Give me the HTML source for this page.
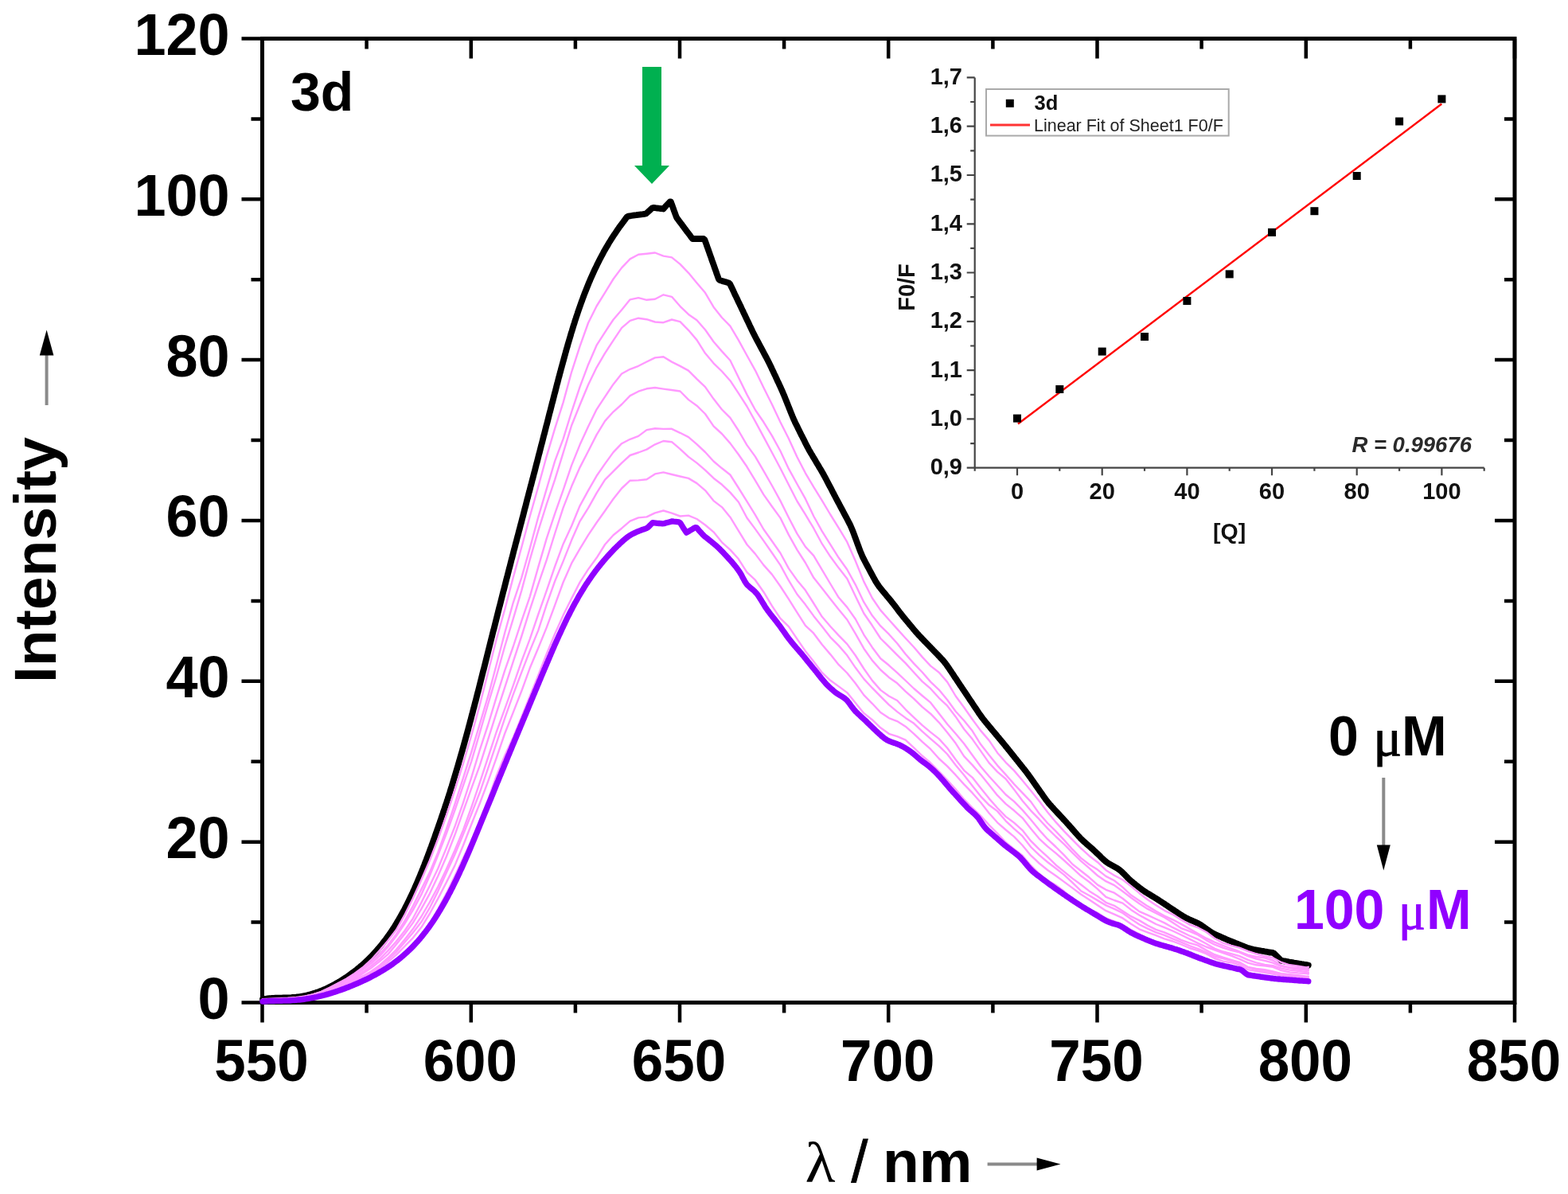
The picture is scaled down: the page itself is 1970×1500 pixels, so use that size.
<!DOCTYPE html><html><head><meta charset="utf-8"><title>Fluorescence quenching 3d</title><style>
html,body{margin:0;padding:0;background:#fff;}body{width:1970px;height:1500px;overflow:hidden;}
svg{display:block;}text{font-family:"Liberation Sans",Arial,sans-serif;}
.sym{font-family:"Liberation Serif","Times New Roman",serif;}
</style></head><body>
<svg width="1970" height="1500" viewBox="0 0 1970 1500">
<rect width="1970" height="1500" fill="#fff"/>
<g stroke="#000" stroke-width="4.5" fill="none" stroke-linecap="butt">
<rect x="329.5" y="48.5" width="1573.5" height="1211.0" stroke-width="5"/>
<path d="M329.5,1259.5V1284.5M329.5,48.5V73.5M460.6,1259.5V1272.5M460.6,48.5V61.5M591.8,1259.5V1284.5M591.8,48.5V73.5M722.9,1259.5V1272.5M722.9,48.5V61.5M854.0,1259.5V1284.5M854.0,48.5V73.5M985.1,1259.5V1272.5M985.1,48.5V61.5M1116.2,1259.5V1284.5M1116.2,48.5V73.5M1247.4,1259.5V1272.5M1247.4,48.5V61.5M1378.5,1259.5V1284.5M1378.5,48.5V73.5M1509.6,1259.5V1272.5M1509.6,48.5V61.5M1640.8,1259.5V1284.5M1640.8,48.5V73.5M1771.9,1259.5V1272.5M1771.9,48.5V61.5M1903.0,1259.5V1284.5M1903.0,48.5V73.5M329.5,1259.5H303.5M1903.0,1259.5H1878.0M329.5,1158.6H315.5M1903.0,1158.6H1890.0M329.5,1057.7H303.5M1903.0,1057.7H1878.0M329.5,956.7H315.5M1903.0,956.7H1890.0M329.5,855.8H303.5M1903.0,855.8H1878.0M329.5,754.9H315.5M1903.0,754.9H1890.0M329.5,654.0H303.5M1903.0,654.0H1878.0M329.5,553.1H315.5M1903.0,553.1H1890.0M329.5,452.1H303.5M1903.0,452.1H1878.0M329.5,351.2H315.5M1903.0,351.2H1890.0M329.5,250.3H303.5M1903.0,250.3H1878.0M329.5,149.4H315.5M1903.0,149.4H1890.0M329.5,48.5H303.5M1903.0,48.5H1878.0"/>
</g>
<g fill="none" stroke-linejoin="round" stroke-linecap="round">
<path d="M330.0,1255.4 L332.0,1255.0 L335.6,1254.5 L336.9,1254.4 L338.5,1254.2 L340.2,1254.1 L342.1,1253.9 L344.0,1253.8 L346.0,1253.7 L348.0,1253.7 L350.0,1253.6 L352.0,1253.6 L354.0,1253.6 L356.0,1253.5 L358.0,1253.5 L360.0,1253.4 L362.0,1253.4 L364.0,1253.3 L366.0,1253.2 L368.0,1253.0 L370.0,1252.9 L372.0,1252.7 L374.0,1252.4 L376.0,1252.2 L378.0,1251.9 L380.0,1251.5 L382.0,1251.2 L384.0,1250.7 L386.0,1250.3 L388.0,1249.8 L390.0,1249.3 L392.0,1248.7 L394.0,1248.1 L396.0,1247.5 L398.0,1246.8 L400.0,1246.1 L402.0,1245.3 L404.0,1244.6 L406.0,1243.7 L408.0,1242.9 L410.0,1242.0 L412.0,1241.0 L414.0,1240.0 L416.0,1239.0 L418.0,1238.0 L420.0,1236.9 L421.9,1235.8 L423.8,1234.8 L425.7,1233.7 L427.6,1232.6 L429.3,1231.5 L431.1,1230.3 L432.8,1229.2 L434.6,1228.1 L436.3,1226.9 L438.0,1225.7 L439.7,1224.5 L441.4,1223.2 L443.1,1221.9 L444.9,1220.6 L446.6,1219.3 L448.3,1218.0 L450.0,1216.6 L451.7,1215.2 L453.3,1213.8 L455.0,1212.4 L456.6,1211.0 L458.2,1209.5 L459.7,1208.1 L461.2,1206.7 L462.7,1205.2 L464.2,1203.7 L465.7,1202.2 L467.2,1200.7 L468.7,1199.1 L470.2,1197.5 L471.7,1195.9 L473.1,1194.2 L474.5,1192.6 L475.9,1191.0 L477.3,1189.4 L478.7,1187.7 L480.0,1186.1 L481.3,1184.4 L482.6,1182.7 L483.9,1181.0 L485.2,1179.3 L486.5,1177.5 L487.7,1175.8 L489.0,1174.1 L490.1,1172.4 L491.3,1170.7 L492.5,1169.0 L493.6,1167.2 L494.7,1165.5 L495.8,1163.8 L496.9,1162.0 L498.0,1160.2 L499.1,1158.4 L500.2,1156.6 L501.3,1154.8 L502.3,1152.9 L503.4,1151.0 L504.4,1149.2 L505.5,1147.3 L506.5,1145.4 L507.5,1143.6 L508.5,1141.7 L509.4,1139.8 L510.4,1138.0 L511.4,1136.1 L512.3,1134.2 L513.2,1132.3 L514.1,1130.5 L515.0,1128.6 L515.9,1126.7 L516.8,1124.8 L517.7,1123.0 L518.6,1121.1 L519.4,1119.2 L520.3,1117.3 L521.1,1115.5 L521.9,1113.6 L522.8,1111.7 L523.6,1109.8 L524.4,1107.9 L525.2,1106.0 L526.0,1104.1 L526.8,1102.2 L527.6,1100.4 L528.3,1098.5 L529.1,1096.6 L529.9,1094.7 L530.6,1092.8 L531.4,1091.0 L532.1,1089.1 L532.9,1087.2 L533.6,1085.3 L534.4,1083.3 L535.1,1081.4 L535.9,1079.4 L536.6,1077.4 L537.4,1075.5 L538.1,1073.5 L538.9,1071.5 L539.6,1069.5 L540.3,1067.5 L541.0,1065.6 L541.8,1063.6 L542.5,1061.7 L543.2,1059.7 L543.9,1057.8 L544.6,1055.8 L545.3,1053.9 L546.0,1052.0 L546.6,1050.0 L547.3,1048.1 L548.0,1046.2 L548.7,1044.3 L549.3,1042.4 L550.0,1040.5 L550.7,1038.6 L551.3,1036.7 L552.0,1034.8 L552.7,1032.9 L553.3,1031.0 L554.0,1029.0 L554.6,1027.1 L555.3,1025.2 L556.0,1023.3 L556.6,1021.4 L557.3,1019.4 L557.9,1017.5 L558.6,1015.6 L559.2,1013.6 L559.9,1011.6 L560.5,1009.7 L561.2,1007.7 L561.8,1005.7 L562.5,1003.7 L563.1,1001.7 L563.8,999.7 L564.4,997.7 L565.1,995.7 L565.7,993.7 L566.3,991.7 L566.9,989.7 L567.6,987.7 L568.2,985.7 L568.8,983.7 L569.4,981.7 L570.0,979.7 L570.6,977.7 L571.2,975.7 L571.8,973.7 L572.4,971.7 L573.0,969.7 L573.6,967.7 L574.2,965.7 L574.8,963.7 L575.4,961.7 L576.0,959.7 L576.5,957.7 L577.1,955.7 L577.7,953.7 L578.3,951.7 L578.8,949.7 L579.4,947.7 L580.0,945.7 L580.6,943.7 L581.1,941.7 L581.7,939.7 L582.3,937.7 L582.8,935.7 L583.4,933.7 L583.9,931.7 L584.5,929.7 L585.0,927.7 L585.6,925.7 L586.1,923.7 L586.7,921.7 L587.2,919.7 L587.8,917.7 L588.3,915.7 L588.8,913.7 L589.4,911.7 L589.9,909.7 L590.4,907.7 L591.0,905.7 L591.5,903.7 L592.0,901.7 L592.5,899.7 L593.1,897.7 L593.6,895.7 L594.1,893.7 L594.6,891.7 L595.2,889.7 L595.7,887.7 L596.2,885.7 L596.7,883.7 L597.3,881.7 L597.8,879.7 L598.3,877.7 L598.8,875.7 L599.3,873.7 L599.8,871.7 L600.4,869.7 L600.9,867.7 L601.4,865.7 L601.9,863.7 L602.4,861.7 L602.9,859.7 L603.4,857.7 L603.9,855.7 L604.4,853.7 L604.9,851.7 L605.4,849.7 L605.9,847.7 L606.4,845.7 L606.9,843.7 L607.5,841.7 L608.0,839.7 L608.5,837.7 L609.0,835.7 L609.5,833.7 L610.0,831.7 L610.5,829.7 L611.0,827.7 L611.5,825.7 L612.0,823.7 L612.5,821.7 L613.0,819.7 L613.5,817.7 L614.0,815.7 L614.5,813.7 L615.0,811.7 L615.5,809.7 L616.0,807.7 L616.5,805.7 L617.0,803.7 L617.5,801.7 L618.1,799.7 L618.5,797.7 L619.0,795.7 L619.5,793.7 L620.1,791.7 L620.6,789.7 L621.1,787.7 L621.6,785.7 L622.1,783.7 L622.6,781.7 L623.1,779.7 L623.6,777.7 L624.1,775.7 L624.6,773.7 L625.1,771.7 L625.6,769.7 L626.1,767.7 L626.6,765.7 L627.1,763.7 L627.7,761.7 L628.2,759.7 L628.7,757.7 L629.2,755.7 L629.7,753.7 L630.2,751.7 L630.7,749.7 L631.2,747.7 L631.7,745.7 L632.2,743.7 L632.8,741.7 L633.3,739.7 L633.8,737.7 L634.3,735.7 L634.8,733.7 L635.3,731.7 L635.8,729.7 L636.3,727.7 L636.9,725.7 L637.4,723.7 L637.9,721.7 L638.4,719.7 L638.9,717.7 L639.4,715.7 L640.0,713.7 L640.5,711.7 L641.0,709.7 L641.5,707.7 L642.0,705.7 L642.5,703.7 L643.1,701.7 L643.6,699.7 L644.1,697.7 L644.6,695.7 L645.1,693.7 L645.6,691.7 L646.2,689.7 L646.7,687.7 L647.2,685.7 L647.7,683.7 L648.3,681.7 L648.8,679.7 L649.3,677.7 L649.8,675.7 L650.4,673.7 L650.9,671.7 L651.4,669.7 L651.9,667.7 L652.5,665.7 L653.0,663.7 L653.5,661.7 L654.0,659.7 L654.6,657.7 L655.1,655.7 L655.6,653.7 L656.1,651.7 L656.7,649.7 L657.2,647.7 L657.7,645.7 L658.2,643.7 L658.7,641.7 L659.2,639.7 L659.8,637.7 L660.3,635.7 L660.8,633.7 L661.3,631.7 L661.8,629.7 L662.3,627.7 L662.9,625.7 L663.4,623.7 L663.9,621.7 L664.4,619.7 L665.0,617.7 L665.5,615.7 L666.0,613.7 L666.5,611.7 L667.1,609.7 L667.6,607.7 L668.1,605.7 L668.6,603.7 L669.2,601.7 L669.7,599.7 L670.2,597.7 L670.7,595.7 L671.3,593.7 L671.8,591.7 L672.3,589.7 L672.8,587.7 L673.3,585.7 L673.8,583.7 L674.4,581.7 L674.9,579.7 L675.4,577.7 L675.9,575.7 L676.4,573.7 L676.9,571.7 L677.5,569.7 L678.0,567.7 L678.5,565.7 L679.0,563.7 L679.5,561.7 L680.0,559.7 L680.6,557.7 L681.1,555.7 L681.6,553.7 L682.1,551.7 L682.6,549.7 L683.1,547.7 L683.7,545.7 L684.2,543.7 L684.7,541.7 L685.2,539.7 L685.7,537.7 L686.2,535.7 L686.8,533.7 L687.3,531.7 L687.8,529.7 L688.3,527.7 L688.8,525.7 L689.3,523.7 L689.8,521.7 L690.3,519.7 L690.9,517.7 L691.4,515.7 L691.9,513.7 L692.4,511.7 L692.9,509.7 L693.4,507.7 L694.0,505.7 L694.5,503.7 L695.0,501.7 L695.5,499.7 L696.0,497.7 L696.5,495.7 L697.1,493.7 L697.6,491.7 L698.1,489.7 L698.6,487.7 L699.1,485.7 L699.6,483.7 L700.2,481.7 L700.7,479.7 L701.2,477.7 L701.7,475.7 L702.3,473.7 L702.8,471.7 L703.3,469.7 L703.9,467.7 L704.4,465.7 L704.9,463.7 L705.5,461.7 L706.0,459.7 L706.6,457.7 L707.1,455.7 L707.7,453.7 L708.2,451.7 L708.8,449.7 L709.3,447.7 L709.9,445.7 L710.4,443.7 L711.0,441.7 L711.5,439.7 L712.1,437.7 L712.7,435.7 L713.2,433.7 L713.8,431.7 L714.4,429.7 L715.0,427.7 L715.6,425.7 L716.2,423.7 L716.8,421.7 L717.3,419.7 L717.9,417.7 L718.6,415.7 L719.2,413.7 L719.8,411.7 L720.4,409.7 L721.0,407.7 L721.7,405.7 L722.3,403.7 L722.9,401.7 L723.6,399.7 L724.2,397.7 L724.9,395.7 L725.6,393.7 L726.2,391.7 L726.9,389.7 L727.6,387.7 L728.3,385.7 L729.0,383.7 L729.7,381.7 L730.4,379.7 L731.2,377.7 L731.9,375.7 L732.6,373.7 L733.4,371.7 L734.1,369.7 L734.9,367.7 L735.7,365.7 L736.5,363.7 L737.3,361.7 L738.1,359.7 L738.9,357.7 L739.7,355.7 L740.6,353.7 L741.4,351.7 L742.3,349.7 L743.2,347.7 L744.1,345.7 L745.0,343.7 L745.9,341.7 L746.8,339.7 L747.7,337.7 L748.7,335.7 L749.7,333.7 L750.6,331.7 L751.6,329.7 L752.6,327.7 L753.6,325.8 L754.6,323.9 L755.6,322.0 L756.6,320.1 L757.6,318.3 L758.5,316.5 L759.5,314.7 L760.6,312.9 L761.6,311.1 L762.6,309.4 L763.7,307.6 L764.7,305.8 L765.8,304.0 L766.9,302.3 L768.0,300.5 L769.2,298.7 L770.3,296.9 L771.5,295.1 L772.7,293.4 L773.9,291.6 L775.1,289.8 L776.3,288.1 L777.5,286.3 L778.7,284.6 L780.0,282.9 L781.2,281.2 L782.5,279.6 L783.7,277.9 L784.9,276.3 L786.1,274.7 L787.6,272.7 L789.4,271.6 L791.4,271.3 L793.4,271.0 L795.5,270.7 L797.5,270.4 L799.5,270.2 L801.5,269.9 L803.5,269.6 L805.5,269.3 L807.6,269.1 L809.6,268.8 L811.6,268.5 L813.1,267.1 L814.7,265.7 L816.2,264.3 L817.7,262.9 L819.2,261.5 L821.0,260.9 L823.1,261.2 L825.1,261.5 L827.2,261.7 L829.2,262.0 L831.3,262.2 L833.3,262.5 L834.7,261.0 L836.1,259.4 L837.5,257.9 L839.0,256.3 L840.4,254.8 L841.8,253.3 L842.8,253.4 L843.5,255.3 L844.2,257.2 L844.9,259.1 L845.6,261.0 L846.2,262.9 L846.9,264.8 L847.6,266.7 L848.3,268.6 L849.0,270.5 L849.7,272.4 L850.6,274.1 L851.8,275.7 L853.0,277.3 L854.2,279.0 L855.5,280.6 L856.7,282.2 L857.9,283.8 L859.1,285.4 L860.3,287.1 L861.5,288.7 L862.7,290.3 L863.9,291.9 L865.2,293.5 L866.4,295.1 L867.6,296.8 L868.8,298.4 L870.0,300.0 L872.0,300.0 L874.0,300.0 L876.0,300.0 L878.0,300.0 L880.0,300.0 L882.0,300.0 L884.0,300.0 L885.3,301.0 L886.0,302.9 L886.7,304.8 L887.4,306.7 L888.0,308.6 L888.7,310.5 L889.4,312.4 L890.1,314.4 L890.8,316.3 L891.4,318.2 L892.1,320.1 L892.8,322.0 L893.5,323.9 L894.1,325.9 L894.8,327.8 L895.5,329.7 L896.2,331.6 L896.9,333.5 L897.5,335.4 L898.2,337.3 L898.9,339.3 L899.6,341.2 L900.2,343.1 L900.9,345.0 L901.6,346.9 L902.3,348.8 L903.0,350.7 L904.3,352.0 L906.2,352.6 L908.1,353.2 L910.0,353.8 L911.9,354.3 L913.8,354.9 L915.7,355.5 L917.1,356.7 L918.0,358.5 L918.8,360.3 L919.7,362.1 L920.6,363.9 L921.4,365.7 L922.3,367.6 L923.1,369.4 L924.0,371.2 L924.9,373.0 L925.7,374.8 L926.6,376.6 L927.4,378.4 L928.3,380.2 L929.2,382.0 L930.0,383.8 L930.9,385.6 L931.7,387.4 L932.6,389.3 L933.5,391.1 L934.3,392.9 L935.2,394.7 L936.0,396.5 L936.9,398.3 L937.7,400.1 L938.6,401.9 L939.5,403.7 L940.3,405.5 L941.2,407.3 L942.0,409.1 L942.9,411.0 L943.8,412.8 L944.6,414.6 L945.5,416.4 L946.4,418.2 L947.3,420.0 L948.2,421.8 L949.1,423.6 L950.1,425.4 L951.0,427.2 L952.0,429.0 L953.0,430.8 L953.9,432.6 L954.9,434.4 L955.8,436.2 L956.8,438.0 L957.8,439.8 L958.7,441.6 L959.7,443.4 L960.6,445.2 L961.6,447.0 L962.6,448.8 L963.5,450.6 L964.5,452.4 L965.4,454.2 L966.3,456.0 L967.2,457.9 L968.1,459.7 L969.0,461.5 L969.8,463.4 L970.7,465.2 L971.6,467.1 L972.4,468.9 L973.3,470.8 L974.2,472.6 L975.0,474.5 L975.9,476.3 L976.7,478.2 L977.6,480.0 L978.5,481.8 L979.3,483.7 L980.2,485.5 L981.0,487.4 L981.9,489.3 L982.7,491.1 L983.5,493.0 L984.3,494.9 L985.1,496.7 L985.8,498.6 L986.6,500.5 L987.4,502.4 L988.1,504.3 L988.9,506.2 L989.6,508.1 L990.4,510.0 L991.2,511.9 L991.9,513.8 L992.7,515.7 L993.4,517.6 L994.2,519.5 L995.0,521.4 L995.7,523.2 L996.5,525.1 L997.3,527.0 L998.2,528.8 L999.0,530.7 L999.9,532.5 L1000.8,534.3 L1001.7,536.1 L1002.6,537.9 L1003.5,539.7 L1004.4,541.5 L1005.2,543.3 L1006.1,545.1 L1007.0,546.9 L1008.0,548.7 L1008.9,550.5 L1009.8,552.3 L1010.7,554.1 L1011.6,555.9 L1012.5,557.7 L1013.4,559.5 L1014.3,561.3 L1015.3,563.0 L1016.2,564.8 L1017.2,566.6 L1018.2,568.3 L1019.2,570.0 L1020.3,571.7 L1021.3,573.5 L1022.3,575.2 L1023.4,576.9 L1024.4,578.6 L1025.4,580.4 L1026.4,582.1 L1027.5,583.8 L1028.5,585.5 L1029.5,587.3 L1030.6,589.0 L1031.6,590.7 L1032.6,592.5 L1033.6,594.2 L1034.6,596.0 L1035.6,597.8 L1036.6,599.6 L1037.5,601.4 L1038.5,603.2 L1039.4,605.0 L1040.4,606.9 L1041.3,608.7 L1042.3,610.5 L1043.3,612.3 L1044.2,614.1 L1045.2,616.0 L1046.1,617.8 L1047.1,619.6 L1048.0,621.4 L1049.0,623.3 L1049.9,625.1 L1050.9,626.9 L1051.8,628.7 L1052.8,630.5 L1053.8,632.3 L1054.7,634.1 L1055.7,635.9 L1056.6,637.7 L1057.6,639.5 L1058.6,641.3 L1059.5,643.1 L1060.5,644.9 L1061.4,646.7 L1062.4,648.5 L1063.4,650.3 L1064.3,652.1 L1065.3,653.9 L1066.2,655.7 L1067.1,657.5 L1068.1,659.3 L1068.9,661.2 L1069.7,663.0 L1070.5,664.9 L1071.3,666.8 L1072.0,668.6 L1072.7,670.5 L1073.4,672.4 L1074.1,674.3 L1074.8,676.2 L1075.5,678.1 L1076.2,680.0 L1076.9,681.9 L1077.6,683.8 L1078.3,685.7 L1079.0,687.6 L1079.7,689.5 L1080.4,691.4 L1081.1,693.2 L1081.9,695.1 L1082.7,697.0 L1083.5,698.8 L1084.3,700.7 L1085.3,702.5 L1086.2,704.3 L1087.1,706.1 L1088.1,707.9 L1089.0,709.7 L1090.0,711.5 L1091.0,713.3 L1091.9,715.1 L1092.9,716.9 L1093.8,718.7 L1094.8,720.5 L1095.8,722.3 L1096.7,724.1 L1097.7,725.9 L1098.7,727.7 L1099.7,729.5 L1100.7,731.2 L1101.8,732.9 L1102.9,734.6 L1104.1,736.3 L1105.3,737.9 L1106.6,739.5 L1107.9,741.1 L1109.2,742.7 L1110.5,744.2 L1111.8,745.8 L1113.1,747.4 L1114.4,749.0 L1115.7,750.5 L1117.1,752.1 L1118.4,753.7 L1119.7,755.3 L1120.9,756.9 L1122.2,758.5 L1123.5,760.1 L1124.7,761.7 L1126.0,763.4 L1127.2,765.0 L1128.4,766.6 L1129.7,768.3 L1130.9,769.9 L1132.2,771.5 L1133.5,773.1 L1134.7,774.7 L1136.0,776.3 L1137.3,777.9 L1138.7,779.5 L1140.0,781.0 L1141.3,782.6 L1142.6,784.2 L1143.9,785.8 L1145.2,787.3 L1146.5,788.9 L1147.8,790.5 L1149.1,792.0 L1150.5,793.6 L1151.8,795.1 L1153.2,796.6 L1154.5,798.1 L1155.9,799.6 L1157.3,801.0 L1158.7,802.5 L1160.1,803.9 L1161.4,805.4 L1162.8,806.8 L1164.2,808.2 L1165.6,809.7 L1167.0,811.1 L1168.4,812.6 L1169.8,814.0 L1171.2,815.4 L1172.6,816.9 L1174.0,818.3 L1175.4,819.8 L1176.8,821.2 L1178.2,822.6 L1179.5,824.1 L1180.9,825.5 L1182.3,827.0 L1183.7,828.4 L1185.0,829.9 L1186.3,831.5 L1187.5,833.0 L1188.8,834.6 L1189.9,836.2 L1191.1,837.9 L1192.2,839.5 L1193.3,841.2 L1194.5,842.9 L1195.6,844.6 L1196.7,846.2 L1197.8,847.9 L1198.9,849.6 L1200.0,851.3 L1201.2,852.9 L1202.3,854.6 L1203.4,856.3 L1204.5,858.0 L1205.6,859.6 L1206.7,861.3 L1207.9,863.0 L1209.0,864.7 L1210.1,866.3 L1211.2,868.0 L1212.4,869.7 L1213.5,871.4 L1214.6,873.1 L1215.8,874.8 L1216.9,876.5 L1218.0,878.2 L1219.2,879.9 L1220.3,881.6 L1221.5,883.3 L1222.6,885.0 L1223.7,886.7 L1224.9,888.4 L1226.0,890.1 L1227.2,891.8 L1228.3,893.5 L1229.4,895.2 L1230.6,896.9 L1231.8,898.6 L1232.9,900.2 L1234.1,901.8 L1235.4,903.5 L1236.6,905.0 L1237.9,906.6 L1239.2,908.2 L1240.5,909.7 L1241.7,911.3 L1243.0,912.8 L1244.3,914.4 L1245.6,915.9 L1246.9,917.5 L1248.2,919.0 L1249.5,920.5 L1250.8,922.1 L1252.1,923.6 L1253.4,925.2 L1254.7,926.7 L1255.9,928.3 L1257.2,929.8 L1258.5,931.4 L1259.8,932.9 L1261.1,934.5 L1262.4,936.0 L1263.6,937.6 L1264.9,939.1 L1266.2,940.7 L1267.4,942.3 L1268.7,943.8 L1269.9,945.4 L1271.2,947.0 L1272.4,948.5 L1273.7,950.1 L1274.9,951.7 L1276.2,953.2 L1277.4,954.8 L1278.7,956.3 L1279.9,957.9 L1281.2,959.5 L1282.4,961.0 L1283.7,962.6 L1284.9,964.2 L1286.2,965.7 L1287.4,967.3 L1288.7,968.9 L1289.9,970.5 L1291.1,972.1 L1292.3,973.7 L1293.5,975.4 L1294.7,977.0 L1295.9,978.7 L1297.1,980.4 L1298.2,982.0 L1299.4,983.7 L1300.6,985.4 L1301.7,987.1 L1302.9,988.7 L1304.1,990.4 L1305.3,992.1 L1306.4,993.8 L1307.6,995.4 L1308.8,997.1 L1310.0,998.8 L1311.1,1000.5 L1312.3,1002.1 L1313.5,1003.8 L1314.7,1005.4 L1316.0,1007.0 L1317.2,1008.6 L1318.5,1010.1 L1319.9,1011.6 L1321.2,1013.1 L1322.6,1014.6 L1323.9,1016.1 L1325.3,1017.6 L1326.7,1019.1 L1328.0,1020.5 L1329.4,1022.0 L1330.8,1023.5 L1332.1,1024.9 L1333.5,1026.4 L1334.9,1027.9 L1336.2,1029.4 L1337.6,1030.8 L1339.0,1032.3 L1340.3,1033.8 L1341.7,1035.3 L1343.1,1036.9 L1344.4,1038.4 L1345.8,1039.9 L1347.1,1041.5 L1348.5,1043.0 L1349.9,1044.6 L1351.2,1046.2 L1352.6,1047.7 L1354.0,1049.3 L1355.3,1050.8 L1356.8,1052.3 L1358.2,1053.8 L1359.7,1055.2 L1361.2,1056.7 L1362.7,1058.0 L1364.3,1059.4 L1365.8,1060.8 L1367.4,1062.1 L1369.0,1063.5 L1370.5,1064.9 L1372.1,1066.2 L1373.6,1067.6 L1375.1,1069.0 L1376.6,1070.4 L1378.1,1071.8 L1379.6,1073.2 L1381.0,1074.6 L1382.5,1076.1 L1383.9,1077.5 L1385.4,1078.9 L1386.9,1080.3 L1388.4,1081.6 L1390.0,1082.9 L1391.7,1084.1 L1393.4,1085.2 L1395.2,1086.2 L1397.0,1087.2 L1398.8,1088.2 L1400.6,1089.2 L1402.4,1090.2 L1404.2,1091.2 L1405.9,1092.4 L1407.5,1093.6 L1409.0,1094.9 L1410.5,1096.3 L1411.9,1097.7 L1413.3,1099.1 L1414.7,1100.6 L1416.1,1102.0 L1417.5,1103.5 L1418.9,1104.8 L1420.4,1106.2 L1422.0,1107.5 L1423.5,1108.8 L1425.1,1110.0 L1426.6,1111.3 L1428.2,1112.5 L1429.8,1113.8 L1431.3,1115.0 L1432.9,1116.2 L1434.6,1117.5 L1436.2,1118.6 L1437.9,1119.8 L1439.7,1120.9 L1441.4,1122.0 L1443.2,1123.1 L1445.0,1124.2 L1446.8,1125.3 L1448.6,1126.4 L1450.4,1127.5 L1452.2,1128.6 L1453.9,1129.7 L1455.7,1130.8 L1457.4,1131.9 L1459.1,1133.0 L1460.9,1134.2 L1462.6,1135.3 L1464.3,1136.5 L1466.0,1137.6 L1467.7,1138.7 L1469.4,1139.9 L1471.1,1141.0 L1472.9,1142.2 L1474.6,1143.3 L1476.3,1144.5 L1478.0,1145.6 L1479.7,1146.7 L1481.4,1147.9 L1483.2,1149.0 L1484.9,1150.1 L1486.6,1151.2 L1488.4,1152.2 L1490.2,1153.2 L1492.1,1154.1 L1494.0,1155.0 L1495.9,1155.8 L1497.8,1156.7 L1499.8,1157.5 L1501.7,1158.3 L1503.5,1159.2 L1505.4,1160.1 L1507.1,1161.1 L1508.9,1162.2 L1510.5,1163.3 L1512.2,1164.4 L1513.8,1165.6 L1515.5,1166.8 L1517.1,1168.0 L1518.8,1169.1 L1520.4,1170.2 L1522.1,1171.3 L1523.9,1172.3 L1525.6,1173.3 L1527.5,1174.2 L1529.3,1175.1 L1531.2,1175.9 L1533.1,1176.7 L1535.0,1177.5 L1536.8,1178.4 L1538.7,1179.2 L1540.6,1180.0 L1542.5,1180.8 L1544.4,1181.6 L1546.3,1182.3 L1548.2,1183.1 L1550.0,1183.9 L1551.9,1184.7 L1553.8,1185.4 L1555.7,1186.2 L1557.6,1186.9 L1559.4,1187.7 L1561.3,1188.4 L1563.2,1189.2 L1565.1,1189.9 L1567.0,1190.6 L1568.9,1191.2 L1570.8,1191.8 L1572.8,1192.3 L1574.8,1192.8 L1576.8,1193.2 L1578.8,1193.5 L1580.8,1193.9 L1582.8,1194.2 L1584.8,1194.6 L1586.9,1194.9 L1588.9,1195.3 L1590.9,1195.6 L1592.9,1196.0 L1594.8,1196.5 L1597.0,1196.6 L1599.0,1196.9 L1600.7,1197.8 L1602.2,1199.3 L1603.7,1200.8 L1605.2,1202.3 L1606.7,1203.8 L1608.2,1205.3 L1609.7,1206.8 L1611.7,1207.1 L1613.7,1207.5 L1615.8,1207.7 L1617.8,1208.1 L1619.7,1208.5 L1621.7,1208.8 L1623.7,1209.1 L1625.7,1209.5 L1627.8,1209.8 L1629.7,1210.2 L1631.7,1210.5 L1633.6,1210.8 L1635.3,1211.1 L1636.8,1211.3 L1638.2,1211.6 L1641.8,1212.2 L1643.8,1212.5" stroke="#000" stroke-width="7.8"/>
<path d="M330.0,1255.3 L340.5,1254.6 L351.0,1254.3 L361.5,1253.8 L372.0,1252.9 L382.5,1251.6 L392.9,1249.3 L403.4,1245.9 L413.9,1240.8 L424.4,1235.3 L434.9,1229.8 L445.4,1223.0 L455.9,1215.3 L466.4,1205.7 L476.9,1194.1 L487.4,1181.8 L497.8,1168.3 L508.3,1149.7 L518.8,1128.5 L529.3,1105.6 L539.8,1081.3 L550.3,1054.2 L560.8,1024.6 L571.3,993.2 L581.8,959.7 L592.3,924.0 L602.7,886.1 L613.2,844.8 L623.7,803.2 L634.2,765.8 L644.7,725.7 L655.2,687.7 L665.7,648.7 L676.2,611.7 L686.7,573.3 L697.2,538.2 L707.6,505.6 L718.1,467.3 L728.6,434.9 L739.1,405.5 L749.6,384.5 L760.1,367.6 L770.6,350.5 L781.1,336.4 L791.6,325.4 L802.1,319.8 L812.5,318.7 L823.0,317.5 L833.5,321.6 L844.0,323.4 L854.5,331.9 L865.0,342.8 L875.5,355.4 L886.0,367.8 L896.5,385.7 L907.0,399.0 L917.4,409.7 L927.9,427.3 L938.4,446.5 L948.9,465.3 L959.4,486.9 L969.9,508.0 L980.4,530.2 L990.9,551.0 L1001.4,574.0 L1011.9,594.3 L1022.3,611.9 L1032.8,628.8 L1043.3,646.5 L1053.8,663.3 L1064.3,680.9 L1074.8,704.8 L1085.3,730.6 L1095.8,751.3 L1106.3,766.6 L1116.8,778.5 L1127.2,790.1 L1137.7,801.7 L1148.2,813.0 L1158.7,825.4 L1169.2,836.6 L1179.7,844.7 L1190.2,856.9 L1200.7,874.5 L1211.2,888.8 L1221.7,903.8 L1232.1,917.9 L1242.6,930.1 L1253.1,945.7 L1263.6,957.8 L1274.1,968.1 L1284.6,980.5 L1295.1,993.2 L1305.6,1006.2 L1316.1,1020.3 L1326.6,1032.9 L1337.0,1044.4 L1347.5,1055.1 L1358.0,1065.6 L1368.5,1075.2 L1379.0,1083.2 L1389.5,1093.2 L1400.0,1099.7 L1410.5,1105.3 L1421.0,1113.4 L1431.5,1122.2 L1441.9,1130.3 L1452.4,1137.3 L1462.9,1143.8 L1473.4,1148.8 L1483.9,1155.5 L1494.4,1161.5 L1504.9,1165.2 L1515.4,1170.7 L1525.9,1178.8 L1536.4,1184.7 L1546.8,1187.9 L1557.3,1190.7 L1567.8,1194.9 L1578.3,1198.4 L1588.8,1201.2 L1599.3,1203.3 L1609.8,1209.0 L1620.3,1212.3 L1630.8,1213.7 L1641.3,1215.5 L1643.8,1214.8" stroke="#ff99ff" stroke-width="2.4"/>
<path d="M330.0,1255.8 L340.5,1255.2 L351.0,1254.9 L361.5,1254.6 L372.0,1253.7 L382.5,1251.8 L392.9,1249.5 L403.4,1246.3 L413.9,1242.2 L424.4,1237.4 L434.9,1231.5 L445.4,1225.1 L455.9,1217.3 L466.4,1208.4 L476.9,1198.5 L487.4,1187.2 L497.8,1173.7 L508.3,1157.1 L518.8,1138.3 L529.3,1117.2 L539.8,1096.1 L550.3,1070.9 L560.8,1041.7 L571.3,1010.7 L581.8,977.8 L592.3,944.6 L602.7,909.9 L613.2,874.7 L623.7,835.3 L634.2,795.0 L644.7,757.3 L655.2,725.8 L665.7,688.8 L676.2,649.8 L686.7,614.4 L697.2,579.2 L707.6,551.3 L718.1,517.5 L728.6,485.8 L739.1,457.9 L749.6,433.7 L760.1,417.3 L770.6,401.5 L781.1,389.3 L791.6,376.3 L802.1,374.1 L812.5,376.8 L823.0,375.7 L833.5,370.3 L844.0,372.8 L854.5,384.8 L865.0,394.9 L875.5,402.2 L886.0,414.3 L896.5,429.2 L907.0,441.4 L917.4,452.8 L927.9,474.2 L938.4,495.6 L948.9,515.0 L959.4,530.3 L969.9,547.4 L980.4,566.5 L990.9,588.9 L1001.4,608.0 L1011.9,626.7 L1022.3,648.5 L1032.8,667.4 L1043.3,684.2 L1053.8,700.8 L1064.3,715.5 L1074.8,734.6 L1085.3,756.4 L1095.8,773.3 L1106.3,786.4 L1116.8,796.7 L1127.2,808.3 L1137.7,821.8 L1148.2,833.6 L1158.7,844.5 L1169.2,856.6 L1179.7,866.6 L1190.2,879.2 L1200.7,893.7 L1211.2,905.3 L1221.7,918.3 L1232.1,935.1 L1242.6,948.4 L1253.1,961.6 L1263.6,973.1 L1274.1,985.1 L1284.6,996.1 L1295.1,1007.1 L1305.6,1022.0 L1316.1,1034.0 L1326.6,1044.4 L1337.0,1055.4 L1347.5,1067.2 L1358.0,1077.9 L1368.5,1086.0 L1379.0,1092.6 L1389.5,1100.9 L1400.0,1106.2 L1410.5,1114.6 L1421.0,1124.5 L1431.5,1131.5 L1441.9,1138.4 L1452.4,1144.7 L1462.9,1150.6 L1473.4,1155.3 L1483.9,1160.9 L1494.4,1166.7 L1504.9,1172.9 L1515.4,1178.7 L1525.9,1183.6 L1536.4,1187.8 L1546.8,1191.7 L1557.3,1195.5 L1567.8,1199.7 L1578.3,1202.0 L1588.8,1203.3 L1599.3,1206.5 L1609.8,1212.8 L1620.3,1215.2 L1630.8,1216.3 L1641.3,1217.5 L1643.8,1217.8" stroke="#ff99ff" stroke-width="2.4"/>
<path d="M330.0,1256.1 L340.5,1255.2 L351.0,1254.9 L361.5,1254.6 L372.0,1253.8 L382.5,1252.2 L392.9,1249.8 L403.4,1246.7 L413.9,1242.8 L424.4,1237.3 L434.9,1231.9 L445.4,1225.5 L455.9,1218.2 L466.4,1210.3 L476.9,1201.1 L487.4,1189.5 L497.8,1176.1 L508.3,1160.5 L518.8,1143.4 L529.3,1123.9 L539.8,1100.3 L550.3,1074.4 L560.8,1047.4 L571.3,1018.3 L581.8,987.4 L592.3,956.3 L602.7,920.9 L613.2,884.5 L623.7,849.5 L634.2,812.0 L644.7,777.7 L655.2,742.1 L665.7,703.1 L676.2,666.8 L686.7,633.5 L697.2,602.3 L707.6,568.9 L718.1,534.5 L728.6,508.5 L739.1,483.2 L749.6,461.6 L760.1,443.7 L770.6,427.7 L781.1,411.9 L791.6,402.9 L802.1,399.7 L812.5,401.2 L823.0,404.5 L833.5,405.2 L844.0,401.5 L854.5,404.1 L865.0,414.8 L875.5,427.1 L886.0,443.8 L896.5,456.3 L907.0,466.5 L917.4,478.2 L927.9,494.2 L938.4,510.5 L948.9,529.3 L959.4,548.9 L969.9,568.5 L980.4,588.2 L990.9,609.0 L1001.4,629.5 L1011.9,646.4 L1022.3,663.7 L1032.8,683.2 L1043.3,699.3 L1053.8,713.6 L1064.3,727.1 L1074.8,749.0 L1085.3,770.5 L1095.8,785.8 L1106.3,802.0 L1116.8,812.4 L1127.2,822.8 L1137.7,833.1 L1148.2,844.7 L1158.7,856.1 L1169.2,865.2 L1179.7,876.8 L1190.2,886.7 L1200.7,900.4 L1211.2,916.0 L1221.7,928.6 L1232.1,943.4 L1242.6,958.4 L1253.1,969.6 L1263.6,978.5 L1274.1,991.9 L1284.6,1006.0 L1295.1,1018.3 L1305.6,1029.2 L1316.1,1040.6 L1326.6,1051.0 L1337.0,1060.6 L1347.5,1071.4 L1358.0,1081.7 L1368.5,1090.7 L1379.0,1100.0 L1389.5,1107.2 L1400.0,1112.1 L1410.5,1119.8 L1421.0,1127.8 L1431.5,1135.2 L1441.9,1141.9 L1452.4,1147.3 L1462.9,1152.5 L1473.4,1159.1 L1483.9,1166.1 L1494.4,1169.9 L1504.9,1174.4 L1515.4,1181.1 L1525.9,1186.7 L1536.4,1190.7 L1546.8,1193.9 L1557.3,1196.4 L1567.8,1201.1 L1578.3,1204.5 L1588.8,1206.8 L1599.3,1209.6 L1609.8,1214.1 L1620.3,1216.1 L1630.8,1217.5 L1641.3,1218.8 L1643.8,1219.2" stroke="#ff99ff" stroke-width="2.4"/>
<path d="M330.0,1256.6 L340.5,1255.7 L351.0,1255.2 L361.5,1255.0 L372.0,1254.7 L382.5,1253.4 L392.9,1251.2 L403.4,1248.2 L413.9,1244.3 L424.4,1239.6 L434.9,1234.3 L445.4,1227.8 L455.9,1221.1 L466.4,1213.4 L476.9,1205.0 L487.4,1194.4 L497.8,1182.7 L508.3,1169.5 L518.8,1153.8 L529.3,1134.0 L539.8,1113.0 L550.3,1091.0 L560.8,1065.4 L571.3,1038.8 L581.8,1008.8 L592.3,976.6 L602.7,942.4 L613.2,910.5 L623.7,875.8 L634.2,842.3 L644.7,812.5 L655.2,780.4 L665.7,749.6 L676.2,712.6 L686.7,676.7 L697.2,645.1 L707.6,615.6 L718.1,584.6 L728.6,558.6 L739.1,535.7 L749.6,514.3 L760.1,498.3 L770.6,482.7 L781.1,469.5 L791.6,463.8 L802.1,459.8 L812.5,454.5 L823.0,449.4 L833.5,448.3 L844.0,454.6 L854.5,459.9 L865.0,465.6 L875.5,476.1 L886.0,486.1 L896.5,501.1 L907.0,514.5 L917.4,524.8 L927.9,541.0 L938.4,559.1 L948.9,573.6 L959.4,591.6 L969.9,610.0 L980.4,629.1 L990.9,650.2 L1001.4,670.4 L1011.9,686.9 L1022.3,698.1 L1032.8,715.9 L1043.3,733.5 L1053.8,750.8 L1064.3,762.9 L1074.8,777.7 L1085.3,797.3 L1095.8,813.2 L1106.3,827.3 L1116.8,835.8 L1127.2,845.1 L1137.7,855.0 L1148.2,865.0 L1158.7,874.0 L1169.2,882.7 L1179.7,896.2 L1190.2,909.7 L1200.7,921.8 L1211.2,934.3 L1221.7,948.7 L1232.1,963.0 L1242.6,975.2 L1253.1,986.7 L1263.6,998.3 L1274.1,1006.9 L1284.6,1017.6 L1295.1,1029.7 L1305.6,1042.6 L1316.1,1054.2 L1326.6,1064.0 L1337.0,1074.4 L1347.5,1085.8 L1358.0,1094.0 L1368.5,1102.3 L1379.0,1111.6 L1389.5,1117.8 L1400.0,1121.7 L1410.5,1128.7 L1421.0,1137.3 L1431.5,1145.1 L1441.9,1149.7 L1452.4,1154.5 L1462.9,1159.4 L1473.4,1165.2 L1483.9,1170.4 L1494.4,1175.5 L1504.9,1179.9 L1515.4,1185.5 L1525.9,1191.6 L1536.4,1195.5 L1546.8,1198.2 L1557.3,1201.2 L1567.8,1205.8 L1578.3,1209.4 L1588.8,1211.9 L1599.3,1213.1 L1609.8,1216.6 L1620.3,1218.6 L1630.8,1219.8 L1641.3,1221.1 L1643.8,1221.7" stroke="#ff99ff" stroke-width="2.4"/>
<path d="M330.0,1257.0 L340.5,1256.1 L351.0,1255.6 L361.5,1255.2 L372.0,1254.7 L382.5,1253.3 L392.9,1250.9 L403.4,1248.0 L413.9,1244.7 L424.4,1240.7 L434.9,1235.6 L445.4,1229.7 L455.9,1223.1 L466.4,1216.0 L476.9,1207.9 L487.4,1198.9 L497.8,1186.4 L508.3,1173.5 L518.8,1159.4 L529.3,1141.8 L539.8,1122.8 L550.3,1100.4 L560.8,1076.3 L571.3,1049.3 L581.8,1019.7 L592.3,990.4 L602.7,961.9 L613.2,928.9 L623.7,895.7 L634.2,863.6 L644.7,831.4 L655.2,799.5 L665.7,766.0 L676.2,734.1 L686.7,703.6 L697.2,670.0 L707.6,637.9 L718.1,611.1 L728.6,587.1 L739.1,566.7 L749.6,546.1 L760.1,528.9 L770.6,517.3 L781.1,508.0 L791.6,497.1 L802.1,491.7 L812.5,488.3 L823.0,487.0 L833.5,488.6 L844.0,490.0 L854.5,491.5 L865.0,502.1 L875.5,509.7 L886.0,520.0 L896.5,535.4 L907.0,545.0 L917.4,556.9 L927.9,571.0 L938.4,586.3 L948.9,603.6 L959.4,621.4 L969.9,636.2 L980.4,650.6 L990.9,671.9 L1001.4,690.6 L1011.9,707.0 L1022.3,725.8 L1032.8,739.0 L1043.3,752.5 L1053.8,765.8 L1064.3,778.5 L1074.8,796.2 L1085.3,814.7 L1095.8,829.6 L1106.3,841.5 L1116.8,850.9 L1127.2,858.3 L1137.7,868.6 L1148.2,877.9 L1158.7,888.1 L1169.2,896.7 L1179.7,907.6 L1190.2,920.3 L1200.7,933.8 L1211.2,950.1 L1221.7,961.1 L1232.1,973.1 L1242.6,986.0 L1253.1,999.2 L1263.6,1009.9 L1274.1,1018.3 L1284.6,1027.6 L1295.1,1041.0 L1305.6,1053.6 L1316.1,1063.4 L1326.6,1071.9 L1337.0,1081.0 L1347.5,1090.7 L1358.0,1100.3 L1368.5,1108.0 L1379.0,1116.9 L1389.5,1126.8 L1400.0,1131.0 L1410.5,1134.6 L1421.0,1142.9 L1431.5,1149.7 L1441.9,1155.4 L1452.4,1161.0 L1462.9,1165.1 L1473.4,1169.5 L1483.9,1174.5 L1494.4,1179.6 L1504.9,1184.9 L1515.4,1189.5 L1525.9,1193.3 L1536.4,1197.0 L1546.8,1200.6 L1557.3,1204.8 L1567.8,1209.6 L1578.3,1212.3 L1588.8,1213.3 L1599.3,1214.8 L1609.8,1219.2 L1620.3,1221.4 L1630.8,1222.4 L1641.3,1223.0 L1643.8,1223.5" stroke="#ff99ff" stroke-width="2.4"/>
<path d="M330.0,1257.0 L340.5,1256.4 L351.0,1256.2 L361.5,1256.0 L372.0,1255.1 L382.5,1253.5 L392.9,1251.3 L403.4,1249.0 L413.9,1246.0 L424.4,1241.6 L434.9,1236.2 L445.4,1231.2 L455.9,1226.2 L466.4,1220.3 L476.9,1212.6 L487.4,1203.5 L497.8,1193.0 L508.3,1180.6 L518.8,1167.1 L529.3,1151.5 L539.8,1133.5 L550.3,1114.0 L560.8,1091.9 L571.3,1068.5 L581.8,1043.1 L592.3,1014.1 L602.7,983.4 L613.2,951.5 L623.7,919.5 L634.2,890.7 L644.7,861.4 L655.2,830.8 L665.7,802.8 L676.2,772.0 L686.7,742.1 L697.2,711.5 L707.6,683.4 L718.1,660.8 L728.6,635.3 L739.1,616.1 L749.6,597.8 L760.1,582.6 L770.6,568.1 L781.1,557.2 L791.6,551.8 L802.1,547.9 L812.5,540.1 L823.0,538.2 L833.5,538.9 L844.0,538.8 L854.5,543.8 L865.0,549.1 L875.5,558.2 L886.0,568.0 L896.5,579.5 L907.0,588.3 L917.4,596.5 L927.9,613.0 L938.4,629.9 L948.9,646.8 L959.4,665.0 L969.9,679.8 L980.4,694.8 L990.9,714.1 L1001.4,728.9 L1011.9,741.6 L1022.3,758.0 L1032.8,774.8 L1043.3,787.0 L1053.8,798.4 L1064.3,809.1 L1074.8,823.5 L1085.3,840.0 L1095.8,854.9 L1106.3,866.9 L1116.8,874.5 L1127.2,880.0 L1137.7,891.3 L1148.2,901.3 L1158.7,911.1 L1169.2,919.9 L1179.7,928.1 L1190.2,939.7 L1200.7,954.3 L1211.2,967.8 L1221.7,976.8 L1232.1,989.9 L1242.6,1003.1 L1253.1,1015.0 L1263.6,1025.9 L1274.1,1033.6 L1284.6,1043.1 L1295.1,1056.4 L1305.6,1066.9 L1316.1,1076.3 L1326.6,1086.7 L1337.0,1095.1 L1347.5,1103.6 L1358.0,1111.3 L1368.5,1119.4 L1379.0,1126.0 L1389.5,1133.8 L1400.0,1137.8 L1410.5,1144.4 L1421.0,1151.2 L1431.5,1156.4 L1441.9,1162.6 L1452.4,1167.8 L1462.9,1171.4 L1473.4,1175.8 L1483.9,1180.9 L1494.4,1184.6 L1504.9,1187.6 L1515.4,1193.6 L1525.9,1199.2 L1536.4,1202.7 L1546.8,1205.8 L1557.3,1208.9 L1567.8,1214.8 L1578.3,1217.0 L1588.8,1218.2 L1599.3,1220.4 L1609.8,1223.1 L1620.3,1224.2 L1630.8,1225.1 L1641.3,1226.6 L1643.8,1226.7" stroke="#ff99ff" stroke-width="2.4"/>
<path d="M330.0,1257.0 L340.5,1256.5 L351.0,1256.4 L361.5,1256.2 L372.0,1255.6 L382.5,1254.3 L392.9,1252.4 L403.4,1249.9 L413.9,1246.2 L424.4,1242.2 L434.9,1238.0 L445.4,1233.1 L455.9,1227.7 L466.4,1221.4 L476.9,1213.7 L487.4,1205.9 L497.8,1196.0 L508.3,1184.0 L518.8,1171.8 L529.3,1158.3 L539.8,1140.7 L550.3,1119.6 L560.8,1096.5 L571.3,1073.7 L581.8,1048.6 L592.3,1022.5 L602.7,995.8 L613.2,965.2 L623.7,933.9 L634.2,902.4 L644.7,872.7 L655.2,844.8 L665.7,817.6 L676.2,792.1 L686.7,759.6 L697.2,730.0 L707.6,705.1 L718.1,678.6 L728.6,654.8 L739.1,638.1 L749.6,619.3 L760.1,602.7 L770.6,592.2 L781.1,581.6 L791.6,572.0 L802.1,568.5 L812.5,564.6 L823.0,558.3 L833.5,554.0 L844.0,555.2 L854.5,564.1 L865.0,573.9 L875.5,581.6 L886.0,590.7 L896.5,600.7 L907.0,608.8 L917.4,618.6 L927.9,630.8 L938.4,650.5 L948.9,664.6 L959.4,679.4 L969.9,694.5 L980.4,709.9 L990.9,729.2 L1001.4,746.5 L1011.9,759.6 L1022.3,773.9 L1032.8,787.1 L1043.3,800.6 L1053.8,811.1 L1064.3,823.3 L1074.8,838.8 L1085.3,852.9 L1095.8,864.2 L1106.3,874.9 L1116.8,885.3 L1127.2,894.1 L1137.7,901.9 L1148.2,908.8 L1158.7,918.9 L1169.2,928.1 L1179.7,937.2 L1190.2,947.5 L1200.7,961.2 L1211.2,973.8 L1221.7,987.3 L1232.1,1000.3 L1242.6,1011.3 L1253.1,1019.1 L1263.6,1031.3 L1274.1,1041.2 L1284.6,1050.4 L1295.1,1064.0 L1305.6,1074.2 L1316.1,1083.0 L1326.6,1091.0 L1337.0,1099.1 L1347.5,1108.9 L1358.0,1119.2 L1368.5,1125.0 L1379.0,1131.1 L1389.5,1137.4 L1400.0,1141.9 L1410.5,1147.0 L1421.0,1154.6 L1431.5,1161.5 L1441.9,1166.6 L1452.4,1171.3 L1462.9,1174.8 L1473.4,1179.4 L1483.9,1183.7 L1494.4,1188.1 L1504.9,1191.9 L1515.4,1196.4 L1525.9,1201.5 L1536.4,1204.2 L1546.8,1206.9 L1557.3,1210.0 L1567.8,1215.3 L1578.3,1217.9 L1588.8,1219.8 L1599.3,1221.6 L1609.8,1223.5 L1620.3,1224.8 L1630.8,1226.5 L1641.3,1227.9 L1643.8,1228.0" stroke="#ff99ff" stroke-width="2.4"/>
<path d="M330.0,1257.4 L340.5,1257.1 L351.0,1256.8 L361.5,1256.5 L372.0,1255.9 L382.5,1254.5 L392.9,1252.7 L403.4,1250.3 L413.9,1246.8 L424.4,1242.8 L434.9,1238.8 L445.4,1234.0 L455.9,1228.1 L466.4,1222.5 L476.9,1216.4 L487.4,1208.7 L497.8,1199.6 L508.3,1189.0 L518.8,1178.3 L529.3,1165.1 L539.8,1148.0 L550.3,1128.8 L560.8,1108.6 L571.3,1087.6 L581.8,1062.5 L592.3,1035.5 L602.7,1009.5 L613.2,981.7 L623.7,952.1 L634.2,921.5 L644.7,895.1 L655.2,868.3 L665.7,839.3 L676.2,814.2 L686.7,788.4 L697.2,760.2 L707.6,731.5 L718.1,707.7 L728.6,689.4 L739.1,672.1 L749.6,656.5 L760.1,641.7 L770.6,626.8 L781.1,613.5 L791.6,603.7 L802.1,603.4 L812.5,602.2 L823.0,595.4 L833.5,593.4 L844.0,596.0 L854.5,598.5 L865.0,600.9 L875.5,607.1 L886.0,616.1 L896.5,629.1 L907.0,637.1 L917.4,649.7 L927.9,666.8 L938.4,684.0 L948.9,695.9 L959.4,709.9 L969.9,721.6 L980.4,736.5 L990.9,752.7 L1001.4,769.4 L1011.9,785.8 L1022.3,795.7 L1032.8,809.8 L1043.3,822.1 L1053.8,835.2 L1064.3,845.5 L1074.8,858.5 L1085.3,873.1 L1095.8,883.8 L1106.3,895.0 L1116.8,902.1 L1127.2,906.1 L1137.7,912.7 L1148.2,921.8 L1158.7,931.8 L1169.2,941.2 L1179.7,953.0 L1190.2,962.7 L1200.7,973.7 L1211.2,985.4 L1221.7,996.2 L1232.1,1008.0 L1242.6,1021.5 L1253.1,1033.3 L1263.6,1042.5 L1274.1,1051.1 L1284.6,1062.0 L1295.1,1074.7 L1305.6,1084.5 L1316.1,1093.0 L1326.6,1100.2 L1337.0,1107.9 L1347.5,1115.6 L1358.0,1123.5 L1368.5,1130.2 L1379.0,1137.3 L1389.5,1144.2 L1400.0,1148.6 L1410.5,1153.4 L1421.0,1160.8 L1431.5,1167.3 L1441.9,1171.3 L1452.4,1175.2 L1462.9,1179.4 L1473.4,1182.5 L1483.9,1186.5 L1494.4,1191.0 L1504.9,1194.2 L1515.4,1198.1 L1525.9,1204.0 L1536.4,1207.6 L1546.8,1209.2 L1557.3,1212.6 L1567.8,1218.1 L1578.3,1220.0 L1588.8,1221.7 L1599.3,1223.6 L1609.8,1225.6 L1620.3,1226.6 L1630.8,1228.4 L1641.3,1229.3 L1643.8,1229.4" stroke="#ff99ff" stroke-width="2.4"/>
<path d="M330.0,1257.8 L340.5,1257.2 L351.0,1257.0 L361.5,1256.8 L372.0,1256.2 L382.5,1254.9 L392.9,1253.2 L403.4,1250.9 L413.9,1248.2 L424.4,1244.7 L434.9,1240.3 L445.4,1236.3 L455.9,1232.0 L466.4,1226.4 L476.9,1219.8 L487.4,1213.1 L497.8,1205.4 L508.3,1196.9 L518.8,1186.1 L529.3,1174.2 L539.8,1160.5 L550.3,1142.0 L560.8,1122.4 L571.3,1100.8 L581.8,1078.3 L592.3,1055.7 L602.7,1030.6 L613.2,1004.4 L623.7,974.7 L634.2,949.2 L644.7,926.4 L655.2,901.0 L665.7,874.8 L676.2,848.5 L686.7,821.7 L697.2,796.2 L707.6,772.9 L718.1,751.9 L728.6,731.4 L739.1,715.1 L749.6,700.8 L760.1,684.0 L770.6,672.2 L781.1,663.7 L791.6,654.7 L802.1,650.4 L812.5,649.4 L823.0,644.4 L833.5,641.5 L844.0,644.7 L854.5,648.5 L865.0,647.6 L875.5,652.0 L886.0,659.5 L896.5,668.3 L907.0,681.3 L917.4,690.6 L927.9,702.3 L938.4,718.8 L948.9,728.7 L959.4,743.7 L969.9,761.2 L980.4,776.9 L990.9,787.1 L1001.4,802.6 L1011.9,817.9 L1022.3,831.1 L1032.8,844.9 L1043.3,854.8 L1053.8,862.4 L1064.3,870.1 L1074.8,883.1 L1085.3,895.9 L1095.8,904.2 L1106.3,914.3 L1116.8,921.8 L1127.2,925.1 L1137.7,929.6 L1148.2,939.3 L1158.7,949.5 L1169.2,958.5 L1179.7,969.2 L1190.2,980.0 L1200.7,991.5 L1211.2,1004.2 L1221.7,1014.8 L1232.1,1024.9 L1242.6,1036.4 L1253.1,1046.9 L1263.6,1058.3 L1274.1,1066.6 L1284.6,1074.8 L1295.1,1087.2 L1305.6,1097.6 L1316.1,1105.8 L1326.6,1112.0 L1337.0,1119.8 L1347.5,1128.8 L1358.0,1136.9 L1368.5,1142.2 L1379.0,1146.8 L1389.5,1153.4 L1400.0,1157.4 L1410.5,1161.7 L1421.0,1168.1 L1431.5,1173.5 L1441.9,1178.8 L1452.4,1184.0 L1462.9,1186.9 L1473.4,1189.6 L1483.9,1192.7 L1494.4,1196.3 L1504.9,1200.9 L1515.4,1205.7 L1525.9,1209.7 L1536.4,1212.6 L1546.8,1214.4 L1557.3,1216.8 L1567.8,1221.5 L1578.3,1224.5 L1588.8,1226.0 L1599.3,1228.2 L1609.8,1229.1 L1620.3,1229.8 L1630.8,1230.3 L1641.3,1231.2 L1643.8,1231.2" stroke="#ff99ff" stroke-width="2.4"/>
<path d="M330.0,1258.2 L332.0,1258.0 L335.6,1257.8 L336.9,1257.7 L338.5,1257.7 L340.2,1257.6 L342.1,1257.5 L344.0,1257.5 L346.0,1257.4 L348.0,1257.4 L350.0,1257.4 L352.0,1257.3 L354.0,1257.3 L356.0,1257.2 L358.0,1257.2 L360.0,1257.1 L362.0,1257.1 L364.0,1257.0 L366.0,1256.8 L368.0,1256.7 L370.0,1256.6 L372.0,1256.4 L374.0,1256.2 L376.0,1256.0 L378.0,1255.8 L380.0,1255.6 L382.0,1255.3 L384.0,1255.0 L386.0,1254.7 L388.0,1254.4 L390.0,1254.0 L392.0,1253.7 L394.0,1253.3 L396.0,1252.9 L398.0,1252.5 L400.0,1252.0 L402.0,1251.5 L404.0,1251.0 L406.0,1250.5 L408.0,1250.0 L410.0,1249.4 L412.0,1248.9 L414.0,1248.3 L416.0,1247.7 L418.0,1247.1 L420.0,1246.4 L422.0,1245.8 L424.0,1245.1 L426.0,1244.4 L428.0,1243.7 L430.0,1243.0 L432.0,1242.3 L434.0,1241.5 L436.0,1240.7 L438.0,1240.0 L440.0,1239.2 L442.0,1238.4 L444.0,1237.5 L446.0,1236.7 L448.0,1235.8 L450.0,1235.0 L452.0,1234.1 L454.0,1233.2 L456.0,1232.2 L458.0,1231.3 L460.0,1230.4 L462.0,1229.4 L464.0,1228.4 L466.0,1227.4 L468.0,1226.3 L470.0,1225.3 L472.0,1224.2 L474.0,1223.1 L475.9,1222.0 L477.8,1220.9 L479.7,1219.8 L481.6,1218.7 L483.3,1217.6 L485.1,1216.5 L486.8,1215.4 L488.6,1214.2 L490.3,1213.1 L492.0,1211.9 L493.7,1210.7 L495.4,1209.4 L497.1,1208.1 L498.9,1206.8 L500.6,1205.5 L502.3,1204.1 L504.0,1202.7 L505.7,1201.3 L507.3,1199.8 L509.0,1198.4 L510.6,1196.9 L512.2,1195.5 L513.7,1194.0 L515.2,1192.6 L516.7,1191.1 L518.2,1189.6 L519.7,1188.1 L521.1,1186.5 L522.5,1185.0 L523.9,1183.4 L525.3,1181.9 L526.7,1180.3 L528.0,1178.8 L529.3,1177.2 L530.6,1175.6 L531.9,1174.0 L533.2,1172.3 L534.5,1170.7 L535.7,1169.1 L537.0,1167.4 L538.2,1165.8 L539.4,1164.1 L540.6,1162.4 L541.8,1160.7 L543.0,1159.0 L544.2,1157.2 L545.3,1155.5 L546.5,1153.7 L547.6,1152.0 L548.7,1150.2 L549.8,1148.5 L550.9,1146.7 L552.0,1144.9 L553.1,1143.1 L554.2,1141.2 L555.3,1139.4 L556.3,1137.5 L557.4,1135.7 L558.4,1133.8 L559.5,1132.0 L560.5,1130.1 L561.5,1128.3 L562.5,1126.5 L563.4,1124.6 L564.4,1122.8 L565.4,1121.0 L566.3,1119.2 L567.2,1117.3 L568.2,1115.5 L569.1,1113.7 L570.0,1111.8 L570.9,1109.9 L571.8,1108.0 L572.8,1106.1 L573.7,1104.2 L574.6,1102.3 L575.5,1100.4 L576.4,1098.5 L577.3,1096.6 L578.1,1094.7 L579.0,1092.8 L579.9,1091.0 L580.7,1089.1 L581.6,1087.2 L582.4,1085.3 L583.3,1083.3 L584.1,1081.4 L585.0,1079.4 L585.8,1077.5 L586.7,1075.6 L587.5,1073.6 L588.4,1071.7 L589.2,1069.8 L590.0,1067.9 L590.8,1066.0 L591.6,1064.1 L592.4,1062.2 L593.2,1060.3 L594.0,1058.4 L594.8,1056.4 L595.6,1054.5 L596.4,1052.6 L597.2,1050.7 L598.0,1048.7 L598.8,1046.8 L599.6,1044.8 L600.4,1042.9 L601.2,1040.9 L602.0,1039.0 L602.8,1037.0 L603.6,1035.1 L604.4,1033.1 L605.2,1031.2 L606.0,1029.2 L606.8,1027.3 L607.6,1025.3 L608.4,1023.4 L609.2,1021.4 L610.0,1019.5 L610.8,1017.6 L611.6,1015.6 L612.4,1013.7 L613.1,1011.9 L613.9,1010.0 L614.7,1008.1 L615.5,1006.2 L616.3,1004.3 L617.1,1002.4 L617.8,1000.5 L618.7,998.5 L619.5,996.5 L620.3,994.5 L621.1,992.5 L621.9,990.4 L622.7,988.4 L623.5,986.4 L624.3,984.4 L625.1,982.4 L626.0,980.4 L626.8,978.4 L627.6,976.4 L628.4,974.4 L629.3,972.4 L630.1,970.4 L630.9,968.4 L631.7,966.4 L632.6,964.4 L633.4,962.4 L634.2,960.4 L635.0,958.4 L635.9,956.4 L636.7,954.4 L637.5,952.4 L638.3,950.4 L639.1,948.4 L640.0,946.4 L640.8,944.4 L641.6,942.4 L642.5,940.4 L643.3,938.4 L644.1,936.4 L644.9,934.4 L645.8,932.4 L646.6,930.4 L647.4,928.4 L648.3,926.4 L649.1,924.4 L649.9,922.4 L650.8,920.4 L651.6,918.4 L652.4,916.4 L653.3,914.4 L654.1,912.4 L654.9,910.4 L655.8,908.4 L656.6,906.4 L657.4,904.4 L658.3,902.4 L659.1,900.4 L659.9,898.4 L660.8,896.4 L661.6,894.4 L662.4,892.4 L663.3,890.4 L664.1,888.4 L664.9,886.4 L665.7,884.4 L666.6,882.4 L667.4,880.4 L668.2,878.4 L669.1,876.4 L669.9,874.4 L670.7,872.4 L671.6,870.4 L672.4,868.4 L673.2,866.4 L674.1,864.4 L674.9,862.4 L675.7,860.4 L676.6,858.4 L677.4,856.4 L678.2,854.4 L679.1,852.4 L679.9,850.4 L680.7,848.4 L681.6,846.4 L682.4,844.4 L683.3,842.4 L684.1,840.4 L685.0,838.4 L685.8,836.4 L686.7,834.4 L687.5,832.4 L688.4,830.4 L689.2,828.4 L690.1,826.4 L690.9,824.4 L691.8,822.4 L692.6,820.4 L693.5,818.4 L694.3,816.4 L695.2,814.4 L696.1,812.4 L696.9,810.4 L697.8,808.4 L698.7,806.4 L699.6,804.4 L700.5,802.4 L701.4,800.4 L702.3,798.4 L703.3,796.4 L704.2,794.4 L705.1,792.4 L706.0,790.4 L707.0,788.4 L707.9,786.4 L708.9,784.4 L709.8,782.4 L710.8,780.4 L711.7,778.4 L712.7,776.4 L713.7,774.4 L714.7,772.5 L715.7,770.5 L716.6,768.6 L717.6,766.7 L718.6,764.9 L719.5,763.1 L720.5,761.3 L721.4,759.5 L722.4,757.7 L723.4,756.0 L724.4,754.2 L725.4,752.4 L726.4,750.6 L727.4,748.8 L728.5,747.1 L729.5,745.3 L730.6,743.5 L731.7,741.7 L732.8,740.0 L733.9,738.2 L735.0,736.4 L736.1,734.6 L737.3,732.8 L738.5,731.1 L739.7,729.3 L740.9,727.5 L742.1,725.8 L743.3,724.0 L744.5,722.3 L745.8,720.6 L747.0,718.9 L748.2,717.3 L749.5,715.6 L750.7,714.0 L752.0,712.4 L753.3,710.8 L754.5,709.2 L755.8,707.6 L757.2,706.0 L758.5,704.4 L759.9,702.8 L761.3,701.2 L762.7,699.6 L764.1,698.1 L765.5,696.5 L766.9,695.0 L768.3,693.5 L769.7,692.1 L771.1,690.6 L772.5,689.1 L774.0,687.7 L775.4,686.2 L776.9,684.8 L778.4,683.3 L779.9,681.9 L781.5,680.5 L783.1,679.0 L784.7,677.7 L786.3,676.3 L788.0,675.0 L789.7,673.8 L791.5,672.6 L793.3,671.5 L795.2,670.5 L797.1,669.6 L799.0,668.7 L800.9,667.9 L802.8,667.1 L804.7,666.4 L806.6,665.6 L808.5,665.0 L810.4,664.3 L812.3,663.6 L814.0,662.6 L815.5,661.1 L817.0,659.6 L818.5,658.2 L820.0,656.7 L822.0,656.9 L824.1,657.1 L826.1,657.3 L828.2,657.5 L830.2,657.7 L832.3,657.9 L834.3,657.7 L836.3,657.1 L838.3,656.5 L840.4,656.0 L842.4,655.4 L844.4,654.8 L846.5,655.1 L848.7,655.3 L850.8,655.6 L852.9,655.9 L854.6,656.9 L855.7,658.6 L856.8,660.4 L857.9,662.2 L859.0,663.9 L860.2,665.7 L861.3,667.4 L862.4,669.2 L864.2,668.1 L866.1,667.0 L867.9,665.9 L869.8,664.8 L871.6,663.7 L873.5,662.6 L875.1,662.8 L876.5,664.3 L877.8,665.9 L879.2,667.4 L880.6,668.9 L881.9,670.5 L883.3,672.0 L884.8,673.4 L886.3,674.7 L887.9,675.9 L889.5,677.2 L891.0,678.4 L892.6,679.7 L894.2,680.9 L895.7,682.2 L897.3,683.5 L898.8,684.8 L900.3,686.1 L901.8,687.4 L903.3,688.8 L904.7,690.2 L906.1,691.7 L907.5,693.1 L908.9,694.6 L910.3,696.1 L911.7,697.5 L913.1,699.0 L914.5,700.5 L915.8,702.0 L917.2,703.5 L918.6,705.0 L919.9,706.5 L921.2,708.1 L922.5,709.6 L923.8,711.2 L925.1,712.8 L926.3,714.5 L927.5,716.1 L928.7,717.8 L929.8,719.5 L930.9,721.3 L931.9,723.1 L932.8,725.0 L933.8,726.8 L934.8,728.6 L935.8,730.4 L936.9,732.1 L938.1,733.8 L939.4,735.3 L940.9,736.7 L942.4,738.1 L944.0,739.4 L945.6,740.7 L947.2,742.0 L948.6,743.4 L950.0,744.9 L951.3,746.4 L952.5,748.0 L953.6,749.7 L954.7,751.4 L955.7,753.1 L956.8,754.8 L957.8,756.5 L958.9,758.2 L960.0,760.0 L961.0,761.7 L962.1,763.4 L963.2,765.0 L964.4,766.7 L965.6,768.3 L966.8,769.9 L968.0,771.5 L969.2,773.0 L970.5,774.6 L971.7,776.2 L973.0,777.7 L974.2,779.3 L975.5,780.9 L976.7,782.5 L977.9,784.1 L979.2,785.8 L980.4,787.4 L981.6,789.1 L982.8,790.8 L984.0,792.5 L985.2,794.2 L986.4,795.9 L987.6,797.6 L988.8,799.3 L990.0,801.0 L991.3,802.6 L992.6,804.3 L993.8,805.9 L995.2,807.5 L996.5,809.1 L997.8,810.7 L999.2,812.2 L1000.5,813.8 L1001.9,815.4 L1003.2,816.9 L1004.6,818.5 L1005.9,820.1 L1007.3,821.6 L1008.6,823.2 L1009.9,824.8 L1011.2,826.4 L1012.5,828.0 L1013.8,829.6 L1015.1,831.2 L1016.4,832.8 L1017.7,834.4 L1019.0,836.0 L1020.3,837.6 L1021.6,839.2 L1022.9,840.8 L1024.2,842.4 L1025.5,843.9 L1026.7,845.5 L1028.0,847.1 L1029.2,848.6 L1030.5,850.2 L1031.7,851.8 L1033.0,853.3 L1034.3,854.9 L1035.6,856.4 L1036.9,857.9 L1038.3,859.4 L1039.7,860.9 L1041.2,862.4 L1042.7,863.8 L1044.2,865.2 L1045.8,866.6 L1047.4,868.0 L1049.0,869.3 L1050.6,870.5 L1052.3,871.7 L1054.1,872.8 L1055.8,873.9 L1057.6,874.9 L1059.3,876.0 L1061.0,877.1 L1062.5,878.4 L1063.9,879.7 L1065.2,881.2 L1066.5,882.8 L1067.7,884.4 L1068.9,886.1 L1070.1,887.7 L1071.3,889.3 L1072.5,890.9 L1073.9,892.5 L1075.2,894.0 L1076.7,895.4 L1078.1,896.8 L1079.6,898.2 L1081.1,899.6 L1082.6,901.0 L1084.2,902.4 L1085.7,903.8 L1087.2,905.2 L1088.7,906.7 L1090.1,908.1 L1091.6,909.5 L1093.1,911.0 L1094.6,912.4 L1096.1,913.8 L1097.6,915.3 L1099.0,916.7 L1100.5,918.1 L1102.0,919.5 L1103.5,920.9 L1105.0,922.3 L1106.5,923.6 L1108.0,925.0 L1109.6,926.2 L1111.1,927.5 L1112.8,928.6 L1114.4,929.7 L1116.2,930.6 L1118.0,931.4 L1119.9,932.1 L1121.8,932.8 L1123.7,933.4 L1125.7,934.1 L1127.6,934.9 L1129.5,935.6 L1131.3,936.5 L1133.2,937.4 L1135.0,938.4 L1136.8,939.4 L1138.6,940.5 L1140.3,941.6 L1142.0,942.7 L1143.7,943.9 L1145.3,945.1 L1146.9,946.4 L1148.5,947.7 L1150.0,949.0 L1151.5,950.3 L1153.0,951.7 L1154.6,953.0 L1156.1,954.3 L1157.7,955.5 L1159.3,956.8 L1161.0,958.0 L1162.6,959.2 L1164.2,960.4 L1165.9,961.7 L1167.5,963.0 L1169.1,964.3 L1170.6,965.7 L1172.2,967.1 L1173.7,968.5 L1175.2,970.0 L1176.7,971.5 L1178.2,973.0 L1179.6,974.6 L1181.0,976.1 L1182.4,977.7 L1183.8,979.2 L1185.2,980.8 L1186.5,982.4 L1187.9,984.0 L1189.2,985.6 L1190.6,987.2 L1191.9,988.8 L1193.3,990.4 L1194.7,991.9 L1196.0,993.5 L1197.4,995.1 L1198.9,996.6 L1200.3,998.2 L1201.7,999.7 L1203.1,1001.3 L1204.5,1002.8 L1205.9,1004.4 L1207.3,1005.9 L1208.7,1007.5 L1210.1,1009.0 L1211.6,1010.6 L1213.0,1012.1 L1214.4,1013.6 L1215.9,1015.1 L1217.4,1016.5 L1219.0,1017.9 L1220.6,1019.3 L1222.2,1020.7 L1223.7,1022.0 L1225.3,1023.4 L1226.7,1024.9 L1228.1,1026.4 L1229.4,1028.0 L1230.5,1029.6 L1231.7,1031.3 L1232.8,1033.0 L1233.9,1034.7 L1235.1,1036.4 L1236.3,1038.0 L1237.6,1039.6 L1238.9,1041.1 L1240.4,1042.6 L1241.9,1044.0 L1243.4,1045.3 L1245.0,1046.7 L1246.5,1048.0 L1248.0,1049.3 L1249.6,1050.7 L1251.1,1052.0 L1252.6,1053.3 L1254.1,1054.7 L1255.6,1056.0 L1257.1,1057.3 L1258.7,1058.7 L1260.2,1060.0 L1261.8,1061.3 L1263.4,1062.6 L1265.0,1063.8 L1266.6,1065.1 L1268.3,1066.4 L1269.9,1067.6 L1271.6,1068.9 L1273.2,1070.1 L1274.9,1071.4 L1276.5,1072.7 L1278.2,1074.0 L1279.7,1075.3 L1281.2,1076.7 L1282.7,1078.2 L1284.1,1079.7 L1285.5,1081.2 L1286.8,1082.8 L1288.1,1084.4 L1289.5,1086.0 L1290.8,1087.6 L1292.1,1089.1 L1293.5,1090.7 L1294.9,1092.2 L1296.3,1093.6 L1297.8,1095.0 L1299.3,1096.3 L1300.8,1097.5 L1302.4,1098.8 L1304.0,1100.0 L1305.6,1101.2 L1307.2,1102.4 L1308.8,1103.6 L1310.4,1104.8 L1312.0,1106.0 L1313.6,1107.2 L1315.2,1108.4 L1316.8,1109.6 L1318.4,1110.8 L1320.1,1112.0 L1321.7,1113.1 L1323.4,1114.3 L1325.0,1115.5 L1326.7,1116.7 L1328.3,1117.8 L1330.0,1119.0 L1331.7,1120.2 L1333.3,1121.3 L1335.0,1122.5 L1336.7,1123.7 L1338.4,1124.8 L1340.0,1126.0 L1341.7,1127.1 L1343.4,1128.3 L1345.1,1129.4 L1346.9,1130.6 L1348.6,1131.7 L1350.3,1132.9 L1352.0,1134.0 L1353.7,1135.1 L1355.5,1136.3 L1357.2,1137.4 L1359.0,1138.5 L1360.7,1139.6 L1362.5,1140.7 L1364.3,1141.8 L1366.1,1142.9 L1367.9,1143.9 L1369.7,1145.0 L1371.5,1146.1 L1373.3,1147.2 L1375.1,1148.3 L1376.9,1149.3 L1378.7,1150.4 L1380.5,1151.5 L1382.3,1152.6 L1384.1,1153.7 L1385.9,1154.7 L1387.7,1155.8 L1389.5,1156.8 L1391.4,1157.7 L1393.3,1158.5 L1395.2,1159.2 L1397.1,1159.9 L1399.1,1160.4 L1401.1,1161.0 L1403.0,1161.5 L1405.0,1162.1 L1406.8,1162.9 L1408.7,1163.8 L1410.4,1164.8 L1412.2,1166.0 L1413.9,1167.1 L1415.6,1168.3 L1417.3,1169.4 L1419.1,1170.5 L1420.9,1171.6 L1422.8,1172.5 L1424.7,1173.5 L1426.5,1174.4 L1428.4,1175.3 L1430.3,1176.1 L1432.2,1177.0 L1434.1,1177.8 L1436.0,1178.7 L1437.9,1179.5 L1439.8,1180.3 L1441.7,1181.1 L1443.6,1181.8 L1445.5,1182.6 L1447.4,1183.3 L1449.3,1184.1 L1451.2,1184.8 L1453.1,1185.5 L1455.1,1186.1 L1457.0,1186.7 L1459.0,1187.3 L1461.0,1187.8 L1463.0,1188.4 L1465.0,1188.9 L1467.0,1189.5 L1469.0,1190.1 L1471.0,1190.6 L1473.0,1191.2 L1475.0,1191.9 L1477.0,1192.5 L1479.0,1193.1 L1481.0,1193.8 L1483.0,1194.5 L1485.0,1195.2 L1487.0,1195.8 L1488.9,1196.6 L1490.9,1197.3 L1492.8,1198.0 L1494.7,1198.8 L1496.7,1199.5 L1498.6,1200.3 L1500.5,1201.1 L1502.4,1201.8 L1504.3,1202.5 L1506.1,1203.3 L1508.0,1204.0 L1509.9,1204.7 L1511.8,1205.4 L1513.7,1206.1 L1515.5,1206.7 L1517.4,1207.4 L1519.3,1208.1 L1521.2,1208.8 L1523.1,1209.4 L1525.0,1210.1 L1526.9,1210.7 L1528.8,1211.2 L1530.8,1211.7 L1532.7,1212.2 L1534.7,1212.7 L1536.7,1213.1 L1538.6,1213.6 L1540.6,1214.0 L1542.6,1214.4 L1544.5,1214.9 L1546.5,1215.3 L1548.5,1215.8 L1550.4,1216.2 L1552.4,1216.7 L1554.3,1217.3 L1556.3,1217.5 L1558.3,1218.0 L1560.1,1218.9 L1561.7,1220.2 L1563.3,1221.5 L1565.0,1222.8 L1566.6,1224.0 L1568.4,1224.9 L1570.4,1225.2 L1572.5,1225.5 L1574.5,1225.8 L1576.6,1226.0 L1578.6,1226.3 L1580.6,1226.6 L1582.6,1226.9 L1584.7,1227.3 L1586.7,1227.5 L1588.7,1227.8 L1590.8,1228.1 L1592.8,1228.4 L1594.8,1228.7 L1596.8,1229.0 L1598.9,1229.2 L1600.9,1229.5 L1602.9,1229.7 L1604.9,1229.8 L1606.9,1230.0 L1608.9,1230.2 L1610.9,1230.3 L1612.9,1230.5 L1614.9,1230.6 L1616.9,1230.8 L1618.9,1230.9 L1620.9,1231.1 L1622.8,1231.2 L1624.8,1231.4 L1626.8,1231.5 L1628.8,1231.7 L1630.8,1231.8 L1632.7,1232.0 L1634.5,1232.1 L1636.1,1232.2 L1637.6,1232.3 L1638.8,1232.4 L1642.8,1232.7 L1643.8,1232.8" stroke="#9000ff" stroke-width="7.3"/>
</g>
<g fill="#000">
<text transform="translate(328.5,1357.5) scale(0.985,1.040)" font-size="72" text-anchor="middle" font-weight="bold">550</text>
<text transform="translate(590.8,1357.5) scale(0.985,1.040)" font-size="72" text-anchor="middle" font-weight="bold">600</text>
<text transform="translate(853.0,1357.5) scale(0.985,1.040)" font-size="72" text-anchor="middle" font-weight="bold">650</text>
<text transform="translate(1115.2,1357.5) scale(0.985,1.040)" font-size="72" text-anchor="middle" font-weight="bold">700</text>
<text transform="translate(1377.5,1357.5) scale(0.985,1.040)" font-size="72" text-anchor="middle" font-weight="bold">750</text>
<text transform="translate(1639.8,1357.5) scale(0.985,1.040)" font-size="72" text-anchor="middle" font-weight="bold">800</text>
<text transform="translate(1902.0,1357.5) scale(0.985,1.040)" font-size="72" text-anchor="middle" font-weight="bold">850</text>
<text transform="translate(288.5,1279.9) scale(1.000,1.040)" font-size="72" text-anchor="end" font-weight="bold">0</text>
<text transform="translate(288.5,1078.1) scale(1.000,1.040)" font-size="72" text-anchor="end" font-weight="bold">20</text>
<text transform="translate(288.5,876.2) scale(1.000,1.040)" font-size="72" text-anchor="end" font-weight="bold">40</text>
<text transform="translate(288.5,674.4) scale(1.000,1.040)" font-size="72" text-anchor="end" font-weight="bold">60</text>
<text transform="translate(288.5,472.5) scale(1.000,1.040)" font-size="72" text-anchor="end" font-weight="bold">80</text>
<text transform="translate(288.5,270.7) scale(1.000,1.040)" font-size="72" text-anchor="end" font-weight="bold">100</text>
<text transform="translate(288.5,68.9) scale(1.000,1.040)" font-size="72" text-anchor="end" font-weight="bold">120</text>
</g>
<text x="365.0" y="138.5" font-size="68" font-weight="bold">3d</text>
<polygon points="807,84 831,84 831,208 841,208 819,231 797,208 807,208" fill="#00b050"/>
<text font-size="68" font-weight="bold" transform="translate(0,949) scale(1,1.04)"><tspan x="1669" y="0">0</tspan> <tspan x="1725.5" y="0" class="sym" font-weight="normal" font-size="63" stroke="#000" stroke-width="0.9" textLength="35.6" lengthAdjust="spacingAndGlyphs">μ</tspan><tspan x="1761" y="0">M</tspan></text>
<line x1="1738.3" y1="977" x2="1738.3" y2="1064" stroke="#8a8a8a" stroke-width="4"/>
<polygon points="1729.8,1061.5 1746.8,1061.5 1738.3,1093.5" fill="#000"/>
<g fill="#9000ff">
<text font-size="68" font-weight="bold" transform="translate(0,1167) scale(1,1.04)"><tspan x="1626" y="0">100</tspan> <tspan x="1757" y="0" class="sym" font-weight="normal" font-size="63" stroke="#9000ff" stroke-width="0.9" textLength="34" lengthAdjust="spacingAndGlyphs">μ</tspan><tspan x="1792" y="0">M</tspan></text>
</g>
<text transform="translate(70.4,858) rotate(-90) scale(1.015,1)" font-size="74" font-weight="bold">Intensity</text>
<line x1="58.6" y1="509" x2="58.6" y2="440" stroke="#8a8a8a" stroke-width="4"/>
<polygon points="49.8,446.4 67.4,446.4 58.6,414.4" fill="#000"/>
<text y="1485.3" font-size="75"><tspan x="1011.5" class="sym" font-size="71" textLength="38" lengthAdjust="spacingAndGlyphs">λ</tspan> <tspan x="1069.5" stroke="#000" stroke-width="0.9">/</tspan> <tspan x="1109" font-weight="bold">nm</tspan></text>
<line x1="1240.6" y1="1462.4" x2="1306" y2="1462.4" stroke="#8a8a8a" stroke-width="4"/>
<polygon points="1302.6,1454.6 1302.6,1470.4 1332.5,1462.4" fill="#000"/>
<g stroke="#444" stroke-width="2.2" fill="none">
<path d="M1224.7,97.4V591.7M1214.7,587.7H1864.7M1224.7,587.7H1214.7M1224.7,557.1H1219.2M1224.7,526.4H1214.7M1224.7,495.8H1219.2M1224.7,465.1H1214.7M1224.7,434.5H1219.2M1224.7,403.8H1214.7M1224.7,373.2H1219.2M1224.7,342.5H1214.7M1224.7,311.9H1219.2M1224.7,281.3H1214.7M1224.7,250.6H1219.2M1224.7,220.0H1214.7M1224.7,189.3H1219.2M1224.7,158.7H1214.7M1224.7,128.0H1219.2M1224.7,97.4H1214.7M1278.0,587.7V597.3M1331.3,587.7V591.7M1384.7,587.7V597.3M1438.0,587.7V591.7M1491.4,587.7V597.3M1544.7,587.7V591.7M1598.0,587.7V597.3M1651.4,587.7V591.7M1704.7,587.7V597.3M1758.1,587.7V591.7M1811.4,587.7V597.3M1864.7,587.7V591.7"/>
</g>
<g fill="#111">
<text x="1209.0" y="596.1" font-size="29" text-anchor="end" font-weight="bold">0,9</text>
<text x="1209.0" y="534.8" font-size="29" text-anchor="end" font-weight="bold">1,0</text>
<text x="1209.0" y="473.5" font-size="29" text-anchor="end" font-weight="bold">1,1</text>
<text x="1209.0" y="412.2" font-size="29" text-anchor="end" font-weight="bold">1,2</text>
<text x="1209.0" y="350.9" font-size="29" text-anchor="end" font-weight="bold">1,3</text>
<text x="1209.0" y="289.7" font-size="29" text-anchor="end" font-weight="bold">1,4</text>
<text x="1209.0" y="228.4" font-size="29" text-anchor="end" font-weight="bold">1,5</text>
<text x="1209.0" y="167.1" font-size="29" text-anchor="end" font-weight="bold">1,6</text>
<text x="1209.0" y="105.8" font-size="29" text-anchor="end" font-weight="bold">1,7</text>
<text x="1278.0" y="627.2" font-size="29" text-anchor="middle" font-weight="bold">0</text>
<text x="1384.7" y="627.2" font-size="29" text-anchor="middle" font-weight="bold">20</text>
<text x="1491.4" y="627.2" font-size="29" text-anchor="middle" font-weight="bold">40</text>
<text x="1598.0" y="627.2" font-size="29" text-anchor="middle" font-weight="bold">60</text>
<text x="1704.7" y="627.2" font-size="29" text-anchor="middle" font-weight="bold">80</text>
<text x="1811.4" y="627.2" font-size="29" text-anchor="middle" font-weight="bold">100</text>
<text x="1544.7" y="677.0" font-size="28.5" text-anchor="middle" font-weight="bold">[Q]</text>
<text transform="translate(1148.5,361) rotate(-90)" font-size="29" font-weight="bold" text-anchor="middle">F0/F</text>
</g>
<rect x="1239" y="112" width="304.7" height="58.5" fill="#fff" stroke="#aaa" stroke-width="2"/>
<rect x="1263.8" y="124.8" width="10" height="10" fill="#000"/>
<g fill="#111"><text x="1299.5" y="137.6" font-size="25.5" font-weight="bold">3d</text></g>
<line x1="1244" y1="157" x2="1294" y2="157" stroke="#ff3333" stroke-width="3"/>
<text x="1299" y="165" font-size="21.5" fill="#222">Linear Fit of Sheet1 F0/F</text>
<line x1="1279" y1="532.5" x2="1811.3" y2="130.5" stroke="#ff0000" stroke-width="2.4"/>
<g fill="#000">
<rect x="1273.0" y="520.6" width="10" height="10"/>
<rect x="1326.3" y="484.0" width="10" height="10"/>
<rect x="1379.7" y="436.6" width="10" height="10"/>
<rect x="1433.0" y="418.0" width="10" height="10"/>
<rect x="1486.4" y="373.0" width="10" height="10"/>
<rect x="1539.7" y="339.4" width="10" height="10"/>
<rect x="1593.0" y="286.9" width="10" height="10"/>
<rect x="1646.4" y="260.2" width="10" height="10"/>
<rect x="1699.7" y="216.0" width="10" height="10"/>
<rect x="1753.1" y="147.5" width="10" height="10"/>
<rect x="1806.4" y="119.4" width="10" height="10"/>
</g>
<g fill="#2a2a2a"><text x="1849.0" y="568.0" font-size="27.5" text-anchor="end" font-weight="bold" font-style="italic">R = 0.99676</text></g>
</svg></body></html>
